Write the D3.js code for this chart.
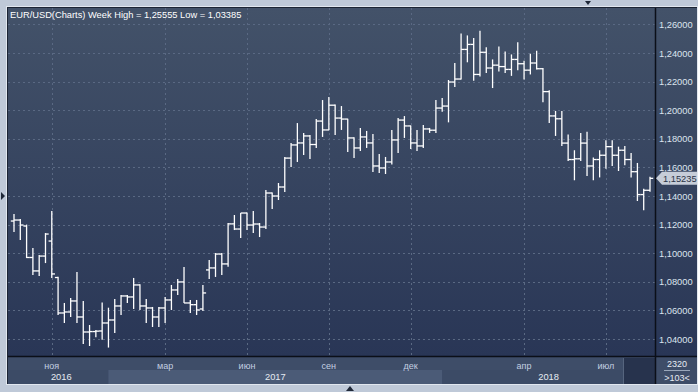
<!DOCTYPE html>
<html>
<head>
<meta charset="utf-8">
<script src="https://cdn.jsdelivr.net/npm/d3@7"></script>
<style>
body { margin: 0; background: #bfc9d8; }
svg { display: block; font-family: "Liberation Sans", Arial, sans-serif; }
</style>
</head>
<body>
<div id="chart"></div>
<script>
// weekly bars (two short holiday bars around Christmas)
var barDates = [
  "2016-09-26","2016-10-03","2016-10-10","2016-10-17","2016-10-24","2016-10-31","2016-11-07","2016-11-14",
  "2016-11-21","2016-11-28","2016-12-05","2016-12-12","2016-12-19","2016-12-25","2016-12-26","2017-01-02",
  "2017-01-09","2017-01-16","2017-01-23","2017-01-30","2017-02-06","2017-02-13","2017-02-20","2017-02-27",
  "2017-03-06","2017-03-13","2017-03-20","2017-03-27","2017-04-03","2017-04-10","2017-04-17","2017-04-24",
  "2017-05-01","2017-05-08","2017-05-15","2017-05-22","2017-05-29","2017-06-05","2017-06-12","2017-06-19",
  "2017-06-26","2017-07-03","2017-07-10","2017-07-17","2017-07-24","2017-07-31","2017-08-07","2017-08-14",
  "2017-08-21","2017-08-28","2017-09-04","2017-09-11","2017-09-18","2017-09-25","2017-10-02","2017-10-09",
  "2017-10-16","2017-10-23","2017-10-30","2017-11-06","2017-11-13","2017-11-20","2017-11-27","2017-12-04",
  "2017-12-11","2017-12-18","2017-12-24","2017-12-25","2018-01-01","2018-01-08","2018-01-15","2018-01-22",
  "2018-01-29","2018-02-05","2018-02-12","2018-02-19","2018-02-26","2018-03-05","2018-03-12","2018-03-19",
  "2018-03-26","2018-04-02","2018-04-09","2018-04-16","2018-04-23","2018-04-30","2018-05-07","2018-05-14",
  "2018-05-21","2018-05-28","2018-06-04","2018-06-11","2018-06-18","2018-06-25","2018-07-02","2018-07-09",
  "2018-07-16","2018-07-23","2018-07-30","2018-08-06","2018-08-13","2018-08-20"
];

var openVals = [
  1.1225,1.1232,1.1190,1.0970,1.0876,1.0980,1.1085,1.0830,1.0582,1.0589,1.0666,1.0554,1.0449,1.0452,1.0456,1.0512,
  1.0533,1.0631,1.0701,1.0694,1.0778,1.0631,1.0617,1.0554,1.0617,1.0673,1.0743,1.0799,1.0652,1.0640,1.0610,1.0883,
  1.0897,1.0994,1.0925,1.1205,1.1169,1.1281,1.1197,1.1204,1.1183,1.1421,1.1400,1.1463,1.1665,1.1757,1.1771,1.1820,
  1.1760,1.1924,1.1862,1.2035,1.1945,1.1938,1.1806,1.1736,1.1813,1.1771,1.1610,1.1596,1.1638,1.1792,1.1931,1.1890,
  1.1771,1.1750,1.1869,1.1860,1.2015,1.2029,1.2197,1.2218,1.2425,1.2460,1.2250,1.2405,1.2295,1.2315,1.2305,1.2285,
  1.2355,1.2325,1.2280,1.2330,1.2290,1.2130,1.1960,1.1940,1.1770,1.1655,1.1660,1.1770,1.1610,1.1655,1.1685,1.1745,
  1.1685,1.1720,1.1655,1.1570,1.1410,1.1440
];
var highVals = [
  1.1275,1.1240,1.1200,1.1036,1.0987,1.1141,1.1295,1.0836,1.0652,1.0687,1.0869,1.0666,1.0498,1.0463,1.0655,1.0619,
  1.0680,1.0708,1.0708,1.0827,1.0782,1.0680,1.0624,1.0624,1.0694,1.0778,1.0820,1.0904,1.0673,1.0673,1.0778,1.0952,
  1.1001,1.1001,1.1211,1.1267,1.1281,1.1285,1.1295,1.1211,1.1442,1.1425,1.1491,1.1673,1.1771,1.1910,1.1841,1.1827,
  1.1938,1.2071,1.2092,1.2040,1.2029,1.1940,1.1810,1.1876,1.1855,1.1834,1.1694,1.1673,1.1862,1.1945,1.1959,1.1893,
  1.1862,1.1897,1.1876,1.2071,1.2085,1.2211,1.2330,1.2536,1.2523,1.2505,1.2555,1.2440,1.2355,1.2445,1.2410,1.2390,
  1.2475,1.2345,1.2395,1.2415,1.2295,1.2140,1.1995,1.1995,1.1830,1.1720,1.1840,1.1850,1.1670,1.1720,1.1790,1.1790,
  1.1745,1.1750,1.1700,1.1631,1.1450,1.1535
];
var lowVals = [
  1.1148,1.1092,1.0966,1.0848,1.0841,1.0931,1.0827,1.0568,1.0512,1.0554,1.0512,1.0365,1.0351,1.0413,1.0395,1.0340,
  1.0442,1.0568,1.0652,1.0610,1.0603,1.0512,1.0484,1.0484,1.0512,1.0603,1.0708,1.0652,1.0582,1.0568,1.0596,1.0820,
  1.0834,1.0848,1.0905,1.1162,1.1106,1.1162,1.1141,1.1113,1.1169,1.1309,1.1372,1.1428,1.1603,1.1638,1.1687,1.1659,
  1.1736,1.1813,1.1860,1.1827,1.1862,1.1708,1.1666,1.1715,1.1736,1.1568,1.1561,1.1554,1.1620,1.1701,1.1806,1.1729,
  1.1715,1.1736,1.1841,1.1841,1.1990,1.1915,1.2162,1.2215,1.2335,1.2206,1.2235,1.2260,1.2155,1.2270,1.2260,1.2240,
  1.2280,1.2215,1.2250,1.2285,1.2055,1.1910,1.1820,1.1750,1.1645,1.1510,1.1645,1.1540,1.1510,1.1530,1.1590,1.1610,
  1.1575,1.1615,1.1530,1.1365,1.1301,1.1430
];
var closeVals = [
  1.1232,1.1197,1.0970,1.0876,1.0980,1.1134,1.0855,1.0582,1.0589,1.0666,1.0554,1.0449,1.0452,1.0455,1.0512,1.0533,
  1.0631,1.0701,1.0694,1.0778,1.0631,1.0617,1.0554,1.0617,1.0673,1.0743,1.0799,1.0652,1.0640,1.0603,1.0722,1.0897,
  1.0994,1.0925,1.1205,1.1169,1.1281,1.1197,1.1204,1.1183,1.1421,1.1400,1.1463,1.1665,1.1757,1.1771,1.1820,1.1760,
  1.1924,1.1862,1.2035,1.1945,1.1938,1.1806,1.1736,1.1813,1.1771,1.1610,1.1596,1.1638,1.1792,1.1931,1.1890,1.1771,
  1.1750,1.1869,1.1860,1.2015,1.2029,1.2197,1.2218,1.2425,1.2460,1.2250,1.2405,1.2295,1.2315,1.2305,1.2285,1.2355,
  1.2325,1.2280,1.2330,1.2290,1.2130,1.1960,1.1940,1.1770,1.1655,1.1660,1.1770,1.1610,1.1655,1.1685,1.1745,1.1685,
  1.1720,1.1655,1.1570,1.1410,1.1440,1.15235
];

var yTicks = [1.04, 1.06, 1.08, 1.10, 1.12, 1.14, 1.16, 1.18, 1.20, 1.22, 1.24, 1.26];
var monthNames = ["янв","фев","мар","апр","май","июн","июл","авг","сен","окт","ноя","дек"];
var labelledMonths = ["2016-11","2017-03","2017-06","2017-09","2017-12","2018-04","2018-07"];
var titleText = "EUR/USD(Charts) Week High = 1,25555 Low = 1,03385";
var lastPrice = 1.15235;

var W = 698, H = 392;
var plot = {left: 8, right: 655, top: 8, bottom: 356};
var panelRight = 697, axisBottom = 384;

var parse = d3.timeParse("%Y-%m-%d");
var bars = barDates.map(function(d, i) {
  return {date: parse(d), o: openVals[i], h: highVals[i], l: lowVals[i], c: closeVals[i]};
});

var fmt = function(v) { return d3.format(".5f")(v).replace(".", ","); };

var x = d3.scaleLinear().domain([0, bars.length - 1]).range([14, 650]);
var y = d3.scaleLinear().domain([1.04, 1.26]).range([339, 24.4]);

var svg = d3.select("#chart").append("svg")
  .attr("width", W).attr("height", H);

var defs = svg.append("defs");
var grad = defs.append("linearGradient").attr("id", "bg")
  .attr("x1", 0).attr("y1", 0).attr("x2", 0).attr("y2", 1);
grad.append("stop").attr("offset", "0%").attr("stop-color", "#435269");
grad.append("stop").attr("offset", "100%").attr("stop-color", "#293656");

// outer frame
svg.append("rect").attr("x", 0).attr("y", 0).attr("width", W).attr("height", H).attr("fill", "#bfc9d8");
svg.append("rect").attr("x", 6.5).attr("y", 6.5).attr("width", panelRight - 6).attr("height", axisBottom - 6)
  .attr("fill", "none").attr("stroke", "#e1e7ef");
svg.append("rect").attr("x", 7).attr("y", 7).attr("width", panelRight - 7).attr("height", axisBottom - 7)
  .attr("fill", "#1c2434");

// plot + right panel background
svg.append("rect").attr("x", plot.left).attr("y", plot.top)
  .attr("width", panelRight - plot.left).attr("height", plot.bottom - plot.top)
  .attr("fill", "url(#bg)");

// bottom axis panel
svg.append("rect").attr("x", plot.left).attr("y", plot.bottom + 1)
  .attr("width", panelRight - plot.left).attr("height", axisBottom - plot.bottom - 1)
  .attr("fill", "#3e4d68");

// first bar of each month / year
var monthKey = d3.timeFormat("%Y-%m");
var firstOfMonth = [], firstOfYear = [];
bars.forEach(function(b, i) {
  if (i === 0 || monthKey(b.date) !== monthKey(bars[i - 1].date)) firstOfMonth.push({i: i, key: monthKey(b.date), m: b.date.getMonth()});
  if (i === 0 || b.date.getFullYear() !== bars[i - 1].date.getFullYear()) firstOfYear.push({i: i, year: b.date.getFullYear()});
});
var monthTicks = firstOfMonth.filter(function(d) { return labelledMonths.indexOf(d.key) >= 0; });

// year bands
var yearBands = firstOfYear.map(function(d, k) {
  var x0 = x(d.i);
  var x1 = k < firstOfYear.length - 1 ? x(firstOfYear[k + 1].i) : plot.right;
  return {year: d.year, x0: x0, x1: x1, k: k};
});
svg.selectAll(".yband").data(yearBands).join("rect")
  .attr("x", function(d) { return d.k === 0 ? plot.left : d.x0; })
  .attr("y", 370)
  .attr("width", function(d) { return d.x1 - (d.k === 0 ? plot.left : d.x0); })
  .attr("height", axisBottom - 370)
  .attr("fill", function(d) { return d.k % 2 === 1 ? "#4b5b77" : "#3c4b66"; });

// scroller block at end of axis
svg.append("rect").attr("x", 624).attr("y", 358).attr("width", plot.right - 624).attr("height", axisBottom - 358)
  .attr("fill", "#27334d");
svg.append("line").attr("x1", 623.5).attr("x2", 623.5).attr("y1", 358).attr("y2", axisBottom)
  .attr("stroke", "#56657e");

// grid
var grid = svg.append("g").attr("stroke", "#5a6983").attr("stroke-dasharray", "2,3").attr("stroke-width", 1);
grid.selectAll(".hg").data(yTicks).join("line")
  .attr("x1", plot.left).attr("x2", plot.right)
  .attr("y1", function(d) { return Math.round(y(d)) + 0.5; })
  .attr("y2", function(d) { return Math.round(y(d)) + 0.5; });
grid.selectAll(".vg").data(monthTicks).join("line")
  .attr("x1", function(d) { return Math.round(x(d.i)) + 0.5; })
  .attr("x2", function(d) { return Math.round(x(d.i)) + 0.5; })
  .attr("y1", plot.top).attr("y2", plot.bottom);

// separators
svg.append("line").attr("x1", plot.left).attr("x2", panelRight).attr("y1", plot.bottom + 0.5).attr("y2", plot.bottom + 0.5)
  .attr("stroke", "#0b0f18").attr("stroke-width", 1.5);
svg.append("line").attr("x1", plot.right + 0.5).attr("x2", plot.right + 0.5).attr("y1", plot.top).attr("y2", axisBottom)
  .attr("stroke", "#0b0f18").attr("stroke-width", 1.5);

// OHLC bars
var barG = svg.append("g").attr("stroke", "#ffffff").attr("stroke-width", 1.3).attr("fill", "none");
barG.selectAll(".hl").data(bars).join("line")
  .attr("x1", function(d, i) { return x(i); }).attr("x2", function(d, i) { return x(i); })
  .attr("y1", function(d) { return y(d.h); }).attr("y2", function(d) { return y(d.l); });
barG.selectAll(".op").data(bars).join("line")
  .attr("x1", function(d, i) { return x(i) - 3.2; }).attr("x2", function(d, i) { return x(i); })
  .attr("y1", function(d) { return y(d.o); }).attr("y2", function(d) { return y(d.o); });
barG.selectAll(".cl").data(bars).join("line")
  .attr("x1", function(d, i) { return x(i); }).attr("x2", function(d, i) { return x(i) + 3.2; })
  .attr("y1", function(d) { return y(d.c); }).attr("y2", function(d) { return y(d.c); });

// title
svg.append("text").attr("x", 10).attr("y", 18.3)
  .attr("fill", "#ffffff").style("font-size", "9.3px").text(titleText);

// right price axis
svg.selectAll(".ylab").data(yTicks).join("text")
  .attr("x", 659).attr("y", function(d) { return y(d) + 3.6; })
  .attr("fill", "#dde4ee").style("font-size", "9.3px")
  .text(fmt);

// last price marker
var ly = y(lastPrice);
svg.append("path")
  .attr("d", "M656," + ly + "L662," + (ly - 6.5) + "H697V" + (ly + 6.5) + "H662Z")
  .attr("fill", "#c6cdd8");
svg.append("text").attr("x", 663).attr("y", ly + 3.6)
  .attr("fill", "#2a3346").style("font-size", "9.3px").text(fmt(lastPrice));

// month labels
svg.selectAll(".mlab").data(monthTicks).join("text")
  .attr("x", function(d) { return x(d.i); }).attr("y", 368.5)
  .attr("text-anchor", "middle").attr("fill", "#c3cfe1").style("font-size", "9px")
  .text(function(d) { return monthNames[d.m]; });

// year labels
svg.selectAll(".ylab2").data(yearBands).join("text")
  .attr("x", function(d) { return (d.x0 + d.x1) / 2; }).attr("y", 379.5)
  .attr("text-anchor", "middle").attr("fill", "#e6ebf2").style("font-size", "9.3px")
  .text(function(d) { return d.year; });

// corner counters
svg.append("text").attr("x", 677).attr("y", 367).attr("text-anchor", "middle")
  .attr("fill", "#e6ebf2").style("font-size", "9px").text("2320");
svg.append("line").attr("x1", 664).attr("x2", 690).attr("y1", 370.5).attr("y2", 370.5).attr("stroke", "#9aa7ba");
svg.append("text").attr("x", 677).attr("y", 380.5).attr("text-anchor", "middle")
  .attr("fill", "#e6ebf2").style("font-size", "9px").text(">103<");

// scroll arrows on frame
var arrows = [
  "M585,1L591,1L588,5Z",
  "M346,391L354,391L350,386Z",
  "M1,192L1,200L5,196Z"
];
svg.selectAll(".arr").data(arrows).join("path").attr("d", function(d) { return d; }).attr("fill", "#1f2838");
</script>
</body>
</html>
